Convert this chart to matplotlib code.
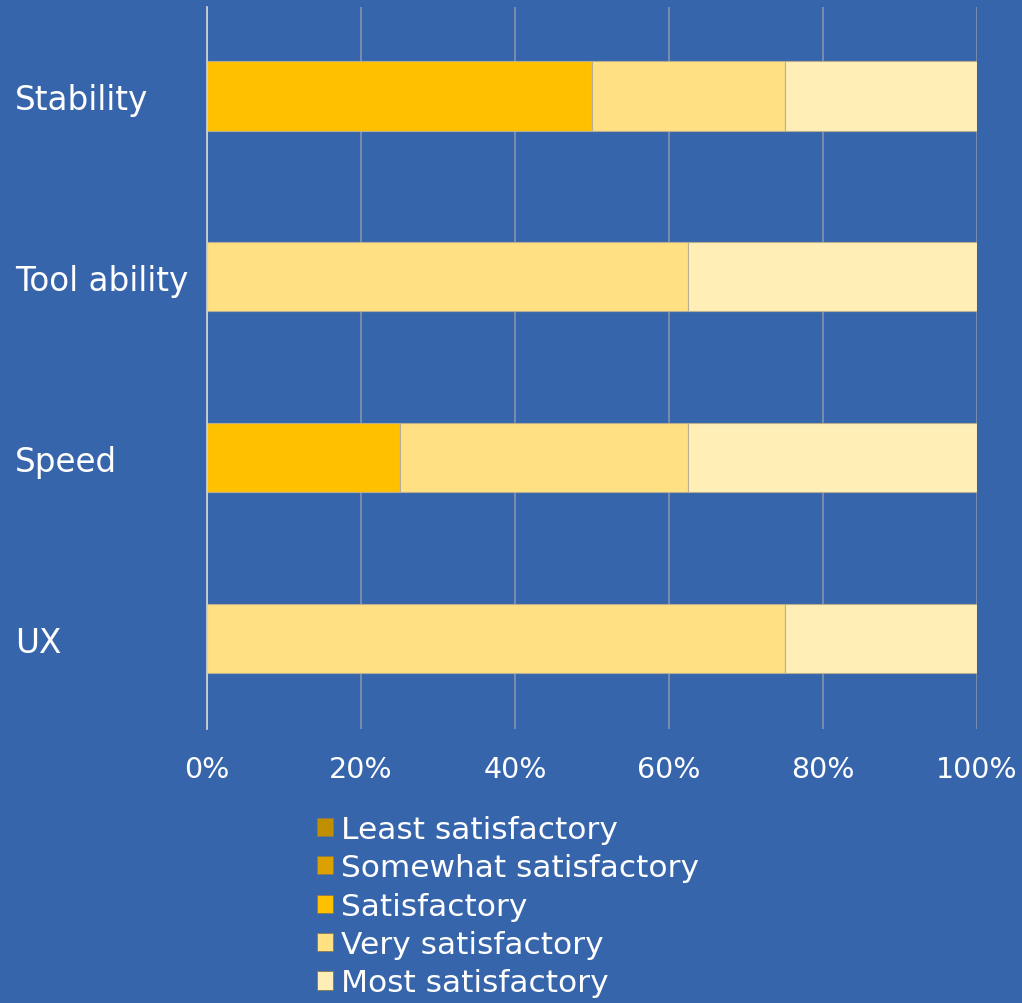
import matplotlib

matplotlib.use("Agg")
import matplotlib.pyplot as plt
import numpy as np
from matplotlib.patches import Patch

categories = ["Stability", "Tool ability", "Speed", "UX"]
levels = [
    "Least satisfactory",
    "Somewhat satisfactory",
    "Satisfactory",
    "Very satisfactory",
    "Most satisfactory",
]
# percent of responses per category, same order as categories
least = [0, 0, 0, 0]
somewhat = [0, 0, 0, 0]
satisfactory = [50, 0, 25, 0]
very = [25, 62.5, 37.5, 75]
most = [25, 37.5, 37.5, 25]
xticks = [0, 20, 40, 60, 80, 100]

colors = ["#bf8f00", "#dca000", "#ffc000", "#ffe083", "#ffefb6"]
BG = "#3765ab"

plt.rcParams["font.family"] = ["DejaVu Sans"]

fig = plt.figure(figsize=(10.22, 10.04), dpi=100, facecolor=BG)
ax = fig.add_axes([207 / 1022, 1 - 730 / 1004, 770 / 1022, 722 / 1004])
ax.set_facecolor(BG)

y = np.arange(len(categories))
left = np.zeros(len(categories))
for name, values, color in zip(levels, [least, somewhat, satisfactory, very, most], colors):
    values = np.asarray(values, dtype=float)
    edges = ["#b8ae93" if v > 0 else "none" for v in values]
    ax.barh(y, values, left=left, height=0.385, color=color,
            edgecolor=edges, linewidth=0.8, zorder=3)
    left += values

ax.set_xlim(0, 100)
ax.set_ylim(len(categories) - 0.5, -0.49)
ax.set_xticks(xticks)
ax.set_xticklabels([f"{t}%" for t in xticks])
ax.set_yticks(y)
ax.set_yticklabels(categories)
for lab in ax.get_yticklabels():
    lab.set_horizontalalignment("left")

ax.tick_params(axis="x", length=0, pad=19, labelsize=20.5, labelcolor="white")
ax.tick_params(axis="y", length=0, pad=138, labelsize=23.5, labelcolor="white")
ax.grid(axis="x", color="#8593aa", linewidth=1.2, zorder=1)
for side in ["top", "right", "bottom"]:
    ax.spines[side].set_visible(False)
ax.spines["left"].set_color("#d8d8d8")
ax.spines["left"].set_linewidth(1.2)
ax.spines["left"].set_zorder(4)

handles = [Patch(facecolor=c, edgecolor="#8a7a50", linewidth=0.6) for c in colors]
fig.legend(handles, levels, loc="upper left", bbox_to_anchor=(317 / 1022, 1 - 816 / 1004),
           frameon=False, fontsize=22.5, labelcolor="white", handlelength=0.52,
           handleheight=0.52, handletextpad=0.26, labelspacing=0.3, borderaxespad=0,
           borderpad=0)

fig.savefig("out.png", dpi=100, facecolor=BG)
